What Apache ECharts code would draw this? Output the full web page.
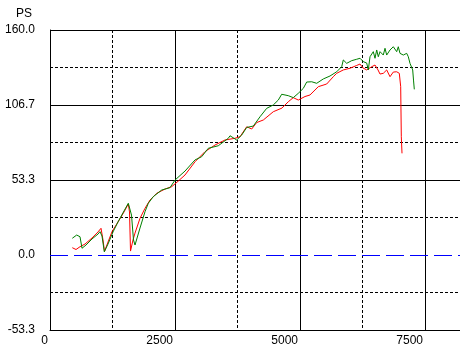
<!DOCTYPE html>
<html><head><meta charset="utf-8">
<script src="https://cdn.jsdelivr.net/npm/echarts@6/dist/echarts.min.js"></script>
<style>html,body{margin:0;padding:0;background:#fff}#c{width:460px;height:359px}</style>
</head><body><div id="c"></div>
<script>
const yName = 'PS';
const xMin = 0, xMax = 8200, xStep = 2500, xMinorStep = 1250;
const yMin = -160 / 3, yMax = 160, yStep = 160 / 3, yMinorStep = 80 / 3;

const redRpm = [446,520,600,700,840,960,1020,1060,1090,1160,1240,1360,1480,1566,1590,1610,1660,1700,1800,1900,2000,2134,2300,2434,2566,2700,2900,3100,3300,3500,3700,3800,3934,4034,4134,4266,4466,4640,4766,4866,4966,5100,5200,5366,5534,5666,5734,5866,6000,6134,6200,6260,6334,6434,6500,6560,6600,6666,6734,6800,6866,6934,6986,7014,7026,7040];
const redPs = [5.2,3.9,5.9,7.8,12.1,16.4,19.0,10.7,2.5,9.2,16.6,23.5,30.6,36.3,30.6,2.8,10.7,15.6,26.1,33.2,39.1,43.9,46.9,48.6,52.6,56.9,66.3,73.5,78.2,81.8,83.0,84.1,91.2,89.6,94.2,96.0,101.9,104.5,109.0,111.9,110.2,112.7,113.8,119.7,121.6,126.8,129.2,131.6,132.8,134.8,135.8,133.0,131.6,133.9,135.1,131.6,128.7,129.2,131.6,126.8,130.1,130.3,129.2,119.7,84.1,72.3];

const greenRpm = [446,534,600,640,720,840,960,1000,1040,1086,1160,1260,1360,1480,1566,1600,1630,1670,1700,1800,1900,1966,2066,2234,2400,2500,2700,2900,3034,3166,3366,3566,3600,3734,3834,3934,4066,4200,4334,4466,4566,4634,4766,4866,4966,5066,5134,5234,5334,5466,5600,5734,5834,5866,5934,6034,6134,6200,6266,6334,6366,6400,6466,6500,6534,6566,6600,6666,6700,6734,6800,6866,6900,6934,6966,7000,7066,7134,7166,7200,7234,7254,7270,7286];
const greenPs = [11.9,14.2,13.0,4.8,7.1,11.4,14.9,16.6,13.5,2.3,7.8,16.4,23.5,31.3,36.8,36.1,28.4,10.7,7.1,19.2,30.8,36.8,41.5,46.2,47.9,53.3,59.7,67.6,69.9,75.9,77.7,83.0,84.8,81.8,85.3,90.7,91.7,98.3,104.3,106.7,110.2,114.3,113.3,111.9,115.0,118.5,123.0,123.2,122.1,125.2,127.3,130.3,133.9,138.7,136.3,138.2,139.2,139.9,137.5,136.5,131.6,141.0,144.6,139.9,145.8,141.0,144.6,142.2,147.0,142.2,145.8,148.1,149.3,144.6,148.1,143.4,142.2,143.4,141.0,136.3,137.5,131.6,124.4,117.8];

const zip = (a, b) => a.map((v, i) => [v, b[i]]);
const font = {color: '#000', fontSize: 12, fontFamily: 'Liberation Sans'};
const clear = 'rgba(0,0,0,0)';

const chart = echarts.init(document.getElementById('c'), null, {renderer: 'canvas'});
chart.setOption({
  animation: false,
  backgroundColor: '#fff',
  grid: {left: 50, top: 30, right: 0, bottom: 29, containLabel: false},
  xAxis: [
    {type: 'value', min: xMin, max: xMax, interval: xStep,
     axisLine: {show: true, onZero: false, lineStyle: {color: '#000', width: 1}},
     axisTick: {show: false},
     axisLabel: Object.assign({align: 'right', margin: 5, padding: [0, 2, 0, 0], showMaxLabel: false, formatter: v => String(v)}, font),
     splitLine: {show: true, showMaxLine: false, lineStyle: {color: '#000', width: 1}}},
    {type: 'value', min: xMin, max: xMax, interval: xMinorStep, position: 'bottom',
     axisLine: {show: false}, axisTick: {show: false}, axisLabel: {show: false},
     splitLine: {show: true, showMaxLine: false, lineStyle: {color: [clear, '#000'], width: 1, type: [3, 2]}}}
  ],
  yAxis: [
    {type: 'value', min: yMin, max: yMax, interval: yStep, name: yName,
     nameLocation: 'end', nameGap: 10, nameTextStyle: Object.assign({align: 'right', padding: [0, 18, 0, 0]}, font),
     axisLine: {show: true, onZero: false, lineStyle: {color: '#000', width: 1}},
     axisTick: {show: false},
     axisLabel: Object.assign({margin: 15, formatter: v => v.toFixed(1)}, font),
     splitLine: {show: true, lineStyle: {color: ['#000', clear, '#000', '#000', '#000'], width: 1}}},
    {type: 'value', min: yMin, max: yMax, interval: yMinorStep, position: 'left',
     axisLine: {show: false}, axisTick: {show: false}, axisLabel: {show: false},
     splitLine: {show: true, lineStyle: {color: [clear, '#000'], width: 1, type: [3, 2]}}}
  ],
  series: [
    {type: 'line', xAxisIndex: 0, yAxisIndex: 0, data: zip(redRpm, redPs), showSymbol: false,
     lineStyle: {color: '#ff0000', width: 1}, itemStyle: {color: '#ff0000'},
     markLine: {silent: true, symbol: ['none', 'none'], label: {show: false},
       emphasis: {disabled: true},
       lineStyle: {color: '#0000ff', width: 1, type: [18, 6], opacity: 1}, data: [{yAxis: 0, lineStyle: {color: '#0000ff'}}]}},
    {type: 'line', xAxisIndex: 0, yAxisIndex: 0, data: zip(greenRpm, greenPs), showSymbol: false,
     lineStyle: {color: '#008000', width: 1}, itemStyle: {color: '#008000'}}
  ]
});
</script></body></html>
